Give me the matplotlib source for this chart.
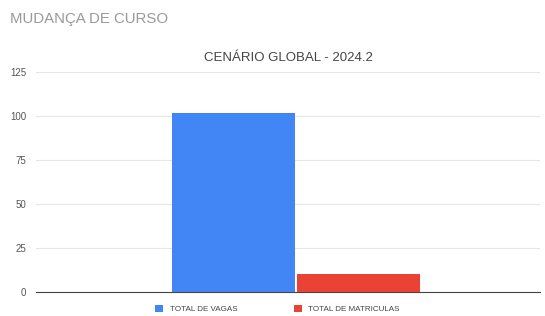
import matplotlib.pyplot as plt
import numpy as np

series = ['TOTAL DE VAGAS', 'TOTAL DE MATRICULAS']
values = [102, 10]
colors = ['#4285F4', '#EA4335']
yticks = [0, 25, 50, 75, 100, 125]

plt.rcParams['font.family'] = ['Liberation Sans', 'DejaVu Sans']

fig = plt.figure(figsize=(5.45, 3.16), dpi=100)
ax = fig.add_axes([0.066, 0.076, 0.925, 0.696])

w = 0.25
for i, (name, v) in enumerate(zip(series, values)):
    ax.bar((i - 0.5) * w * 1.01, v, width=w, color=colors[i], label=name, zorder=3)

ax.set_xlim(-0.528, 0.496)
ax.set_ylim(0, 125)
ax.set_yticks(yticks)
ax.set_yticklabels([str(t) for t in yticks], fontsize=7, color='#555555')
ax.set_xticks([])
ax.tick_params(axis='y', length=0, pad=7)
ax.grid(axis='y', color='#e6e6e6', linewidth=0.8, zorder=0)
for s in ['top', 'right', 'left']:
    ax.spines[s].set_visible(False)
ax.spines['bottom'].set_color('#444444')
ax.spines['bottom'].set_linewidth(0.8)

ax.set_title('CENÁRIO GLOBAL - 2024.2', fontsize=9.5, color='#444444', pad=8)
fig.text(0.018, 0.94, 'MUDANÇA DE CURSO', fontsize=10.8, color='#999999', va='center')

ax.legend(loc='upper center', bbox_to_anchor=(0.479, -0.025), ncol=2, frameon=False,
          fontsize=5.8, handlelength=1.0, handleheight=1.0, columnspacing=7,
          labelcolor='#444444')

fig.savefig('out.png', dpi=100)
